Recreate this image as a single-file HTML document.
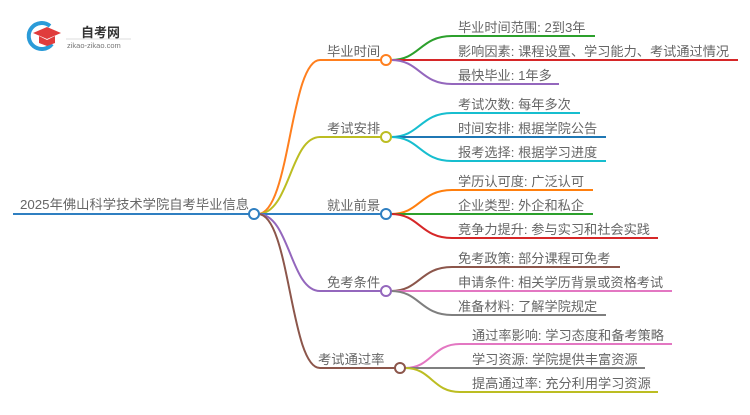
<!DOCTYPE html>
<html><head><meta charset="utf-8"><style>
body{margin:0;background:#fff;width:750px;height:410px;overflow:hidden}
svg text{font-family:"Liberation Sans","Noto Sans CJK SC",sans-serif;fill:#666}
</style></head><body>
<svg width="750" height="410" viewBox="0 0 750 410" xmlns="http://www.w3.org/2000/svg">
<g fill="none" stroke-width="2">
<path d="M13 214H254" stroke="#2f7fc1"/>
<path d="M258 214C290 214 290 60 320 60H381" stroke="#ff7f1e"/>
<path d="M258 214C290 214 290 137 320 137H381" stroke="#bcbd22"/>
<path d="M258 214H381" stroke="#2f7fc1"/>
<path d="M258 214C290 214 290 291 320 291H381" stroke="#9467bd"/>
<path d="M258 214C290 214 290 368 320 368H395" stroke="#8c564b"/>
<path d="M391 60C420 60 420 36 452 36H595" stroke="#2ca02c"/>
<path d="M391 60H738" stroke="#d62728"/>
<path d="M391 60C420 60 420 84 452 84H559" stroke="#9467bd"/>
<path d="M391 137C420 137 420 113 452 113H580" stroke="#17becf"/>
<path d="M391 137H606" stroke="#1f77b4"/>
<path d="M391 137C420 137 420 161 452 161H606" stroke="#17becf"/>
<path d="M391 214C420 214 420 190 452 190H593" stroke="#ff7f0e"/>
<path d="M391 214H593" stroke="#2ca02c"/>
<path d="M391 214C420 214 420 238 452 238H658" stroke="#d62728"/>
<path d="M391 291C420 291 420 267 452 267H620" stroke="#8c564b"/>
<path d="M391 291H672" stroke="#e377c2"/>
<path d="M391 291C420 291 420 315 452 315H606" stroke="#7f7f7f"/>
<path d="M405 368C432 368 432 344 460 344H672" stroke="#e377c2"/>
<path d="M405 368H645" stroke="#7f7f7f"/>
<path d="M405 368C432 368 432 392 460 392H658" stroke="#bcbd22"/>
</g>
<g fill="#fff" stroke-width="2">
<circle cx="254" cy="214" r="5" stroke="#2f7fc1"/>
<circle cx="386" cy="60" r="5" stroke="#ff7f1e"/>
<circle cx="386" cy="137" r="5" stroke="#bcbd22"/>
<circle cx="386" cy="214" r="5" stroke="#2f7fc1"/>
<circle cx="386" cy="291" r="5" stroke="#9467bd"/>
<circle cx="400" cy="368" r="5" stroke="#8c564b"/>
</g>
<g font-size="13.3">
<text x="20" y="209">2025年佛山科学技术学院自考毕业信息</text>
<text x="327" y="56">毕业时间</text>
<text x="327" y="133">考试安排</text>
<text x="327" y="210">就业前景</text>
<text x="327" y="287">免考条件</text>
<text x="318" y="364">考试通过率</text>
</g>
<g font-size="13.2">
<text x="458" y="32">毕业时间范围: 2到3年</text>
<text x="458" y="56">影响因素: 课程设置、学习能力、考试通过情况</text>
<text x="458" y="80">最快毕业: 1年多</text>
<text x="458" y="109">考试次数: 每年多次</text>
<text x="458" y="133">时间安排: 根据学院公告</text>
<text x="458" y="157">报考选择: 根据学习进度</text>
<text x="458" y="186">学历认可度: 广泛认可</text>
<text x="458" y="210">企业类型: 外企和私企</text>
<text x="458" y="234">竞争力提升: 参与实习和社会实践</text>
<text x="458" y="263">免考政策: 部分课程可免考</text>
<text x="458" y="287">申请条件: 相关学历背景或资格考试</text>
<text x="458" y="311">准备材料: 了解学院规定</text>
<text x="472" y="340">通过率影响: 学习态度和备考策略</text>
<text x="472" y="364">学习资源: 学院提供丰富资源</text>
<text x="472" y="388">提高通过率: 充分利用学习资源</text>
</g>
<path d="M50 26A13 13 0 1 0 52 44" fill="none" stroke="#2b9bd8" stroke-width="4"/>
<path d="M33 33L47 27L61 33L47 39Z" fill="#e03c3c"/>
<path d="M39 36V43L47 46L55 43V36L47 40Z" fill="#e03c3c"/>
<text x="81" y="37" font-size="13" font-weight="bold" style="fill:#333">自考网</text>
<line x1="66" y1="39" x2="131" y2="39" stroke="#ddd"/>
<text x="67" y="48" font-size="7.5" style="fill:#777">zikao-zikao.com</text>
</svg>
</body></html>
